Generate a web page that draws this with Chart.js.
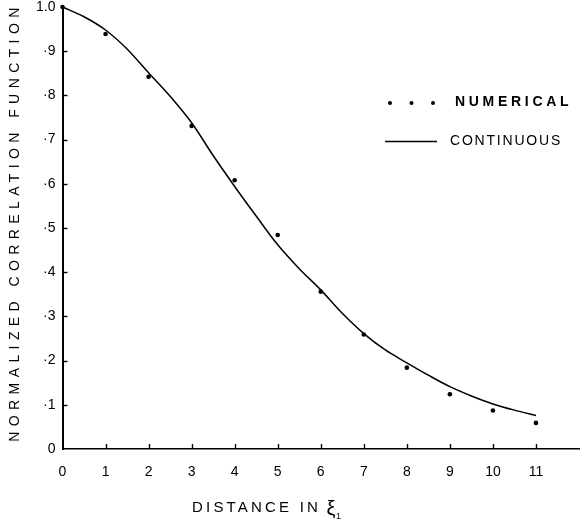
<!DOCTYPE html>
<html><head><meta charset="utf-8">
<script src="https://cdn.jsdelivr.net/npm/chart.js@4/dist/chart.umd.min.js"></script>
<style>html,body{margin:0;padding:0;background:#fff}#wrap{width:583px;height:526px;position:relative}</style>
</head><body><div id="wrap"><canvas id="c" width="583" height="526"></canvas></div>
<script>
// ---- data ----
const numericalX = [0, 1, 2, 3, 4, 5, 6, 7, 8, 9, 10, 11];
const numericalY = [1.0, 0.939, 0.842, 0.731, 0.608, 0.484, 0.356, 0.259, 0.184, 0.124, 0.087, 0.059];
const continuousX = [0, 0.5, 1, 1.5, 2, 2.5, 3, 3.5, 4, 4.5, 5, 5.5, 6, 6.5, 7, 7.5, 8, 8.5, 9, 9.5, 10, 10.5, 11];
const continuousY = [1.0, 0.978, 0.948, 0.905, 0.851, 0.798, 0.738, 0.664, 0.594, 0.527, 0.462, 0.408, 0.360, 0.307, 0.261, 0.224, 0.195, 0.167, 0.141, 0.120, 0.102, 0.088, 0.076];
const xTickValues = [0, 1, 2, 3, 4, 5, 6, 7, 8, 9, 10, 11];
const xTickLabels = ['0', '1', '2', '3', '4', '5', '6', '7', '8', '9', '10', '11'];
const yTickValues = [0, 0.1, 0.2, 0.3, 0.4, 0.5, 0.6, 0.7, 0.8, 0.9, 1.0];
const yTickLabels = ['0', '·1', '·2', '·3', '·4', '·5', '·6', '·7', '·8', '·9', '1.0'];
const seriesNames = ['NUMERICAL', 'CONTINUOUS'];
const xTitleParts = ['DISTANCE IN ', 'ξ', '1'];
const yTitle = 'NORMALIZED CORRELATION FUNCTION';

const FONT = '"Liberation Sans", Arial, sans-serif';
Chart.defaults.font.family = FONT;
Chart.defaults.color = '#000';

const pairs = (xs, ys) => xs.map((x, i) => ({x, y: ys[i]}));

const decor = {
  id: 'decor',
  afterDraw(chart) {
    const ctx = chart.ctx, xs = chart.scales.x, ys = chart.scales.y, a = chart.chartArea;
    ctx.save();
    ctx.strokeStyle = '#000';
    ctx.lineWidth = 1.4;
    // inward tick marks
    xTickValues.forEach(v => {
      if (v === 0) return;
      const p = Math.round(xs.getPixelForValue(v)) + 0.5;
      ctx.beginPath(); ctx.moveTo(p, a.bottom); ctx.lineTo(p, a.bottom - 5); ctx.stroke();
    });
    yTickValues.forEach(v => {
      if (v === 0 || v === 1) return;
      const p = Math.round(ys.getPixelForValue(v)) + 0.5;
      ctx.beginPath(); ctx.moveTo(a.left, p); ctx.lineTo(a.left + 5, p); ctx.stroke();
    });
    ctx.fillStyle = '#000';
    ctx.textBaseline = 'middle';
    // y axis title
    ctx.save();
    ctx.font = '14px ' + FONT;
    ctx.letterSpacing = '5.4px';
    ctx.textAlign = 'center';
    ctx.translate(15, (a.top + a.bottom) / 2 - 3);
    ctx.rotate(-Math.PI / 2);
    ctx.fillText(yTitle, 3, 0);
    ctx.restore();
    // x axis title
    ctx.save();
    ctx.textAlign = 'left';
    ctx.textBaseline = 'alphabetic';
    ctx.font = '15px ' + FONT;
    ctx.letterSpacing = '3.2px';
    let tx = 192;
    const base = 512;
    ctx.fillText(xTitleParts[0], tx, base);
    tx += ctx.measureText(xTitleParts[0]).width - 2;
    ctx.letterSpacing = '0px';
    ctx.font = '20px ' + FONT;
    ctx.fillText(xTitleParts[1], tx, base + 3);
    tx += ctx.measureText(xTitleParts[1]).width + 0.5;
    ctx.font = '9px ' + FONT;
    ctx.fillText(xTitleParts[2], tx, base + 7);
    ctx.restore();
    // legend
    const lx = 390, ly1 = 102, ly2 = 141;
    [0, 1, 2].forEach(i => {
      ctx.beginPath(); ctx.arc(lx + i * 21.5, ly1 + 1, 2, 0, Math.PI * 2); ctx.fill();
    });
    ctx.save();
    ctx.font = 'bold 14px ' + FONT;
    ctx.letterSpacing = '3.7px';
    ctx.textAlign = 'left';
    ctx.fillText(seriesNames[0], 455, ly1);
    ctx.restore();
    ctx.lineWidth = 1.4;
    ctx.beginPath(); ctx.moveTo(385, ly2 + 0.5); ctx.lineTo(437, ly2 + 0.5); ctx.stroke();
    ctx.save();
    ctx.font = '14px ' + FONT;
    ctx.letterSpacing = '1.8px';
    ctx.textAlign = 'left';
    ctx.fillText(seriesNames[1], 450, ly2);
    ctx.restore();
    ctx.restore();
  }
};

new Chart(document.getElementById('c'), {
  type: 'scatter',
  data: {
    datasets: [
      {
        label: seriesNames[0],
        data: pairs(numericalX, numericalY),
        showLine: false,
        pointRadius: 2.3,
        pointBackgroundColor: '#000',
        pointBorderWidth: 0,
        clip: false
      },
      {
        label: seriesNames[1],
        data: pairs(continuousX, continuousY),
        showLine: true,
        borderColor: '#000',
        borderWidth: 1.5,
        pointRadius: 0,
        tension: 0.4,
        cubicInterpolationMode: 'monotone',
        clip: false
      }
    ]
  },
  options: {
    responsive: false,
    animation: false,
    devicePixelRatio: 1,
    layout: {padding: {top: 7, right: 0, left: 0, bottom: 0}},
    plugins: {legend: {display: false}, tooltip: {enabled: false}},
    scales: {
      x: {
        type: 'linear', min: 0, max: 12,
        afterFit: s => { s.height = 77; s.paddingLeft = 0; s.paddingRight = 0; },
        afterBuildTicks: s => { s.ticks = xTickValues.map(v => ({value: v})); },
        ticks: {
          font: {size: 14}, padding: 15, maxRotation: 0, autoSkip: false,
          callback: (v) => { const i = xTickValues.indexOf(v); return i >= 0 ? xTickLabels[i] : ''; }
        },
        grid: {display: true, drawOnChartArea: false, drawTicks: false},
        border: {display: true, color: '#000', width: 1.5}
      },
      y: {
        type: 'linear', min: 0, max: 1,
        afterFit: s => { s.width = 62.5; s.paddingTop = 0; s.paddingBottom = 0; },
        afterBuildTicks: s => { s.ticks = yTickValues.map(v => ({value: v})); },
        ticks: {
          font: {size: 14}, padding: 7, autoSkip: false,
          callback: (v) => { const i = yTickValues.findIndex(t => Math.abs(t - v) < 1e-6); return i >= 0 ? yTickLabels[i] : ''; }
        },
        grid: {display: true, drawOnChartArea: false, drawTicks: false},
        border: {display: true, color: '#000', width: 2}
      }
    }
  },
  plugins: [decor]
});
</script>
</body></html>
